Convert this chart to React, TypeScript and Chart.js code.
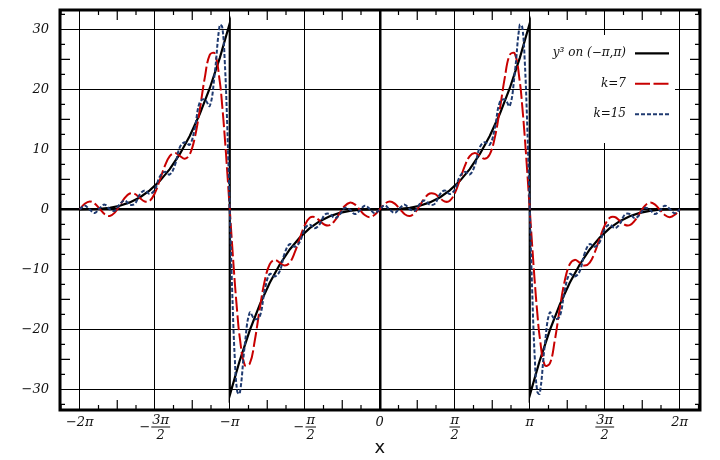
import React, { useEffect, useRef } from "react";
import { Chart, registerables } from "chart.js";

Chart.register(...registerables);

// x positions are in units of π/30 (so 30 = π, 60 = 2π)
const seriesX = [
  -60, -59, -58, -57, -56, -55, -54, -53, -52, -51, -50, -49, -48, -47, -46, -45, -44, -43, -42, -41,
  -40, -39, -38, -37, -36, -35, -34, -33, -32, -31.5, -31, -30.5, -30, -29.5, -29, -28.5,
  -28, -27, -26, -25, -24, -23, -22, -21, -20, -19, -18, -17, -16, -15, -14, -13, -12, -11, -10,
  -9, -8, -7, -6, -5, -4, -3, -2, -1, 0, 1, 2, 3, 4, 5, 6, 7, 8, 9, 10, 11, 12, 13, 14, 15, 16, 17,
  18, 19, 20, 21, 22, 23, 24, 25, 26, 27, 28, 28.5, 29, 29.5, 30, 30.5, 31, 31.5,
  32, 33, 34, 35, 36, 37, 38, 39, 40, 41, 42, 43, 44, 45, 46, 47, 48, 49, 50, 51, 52, 53, 54, 55,
  56, 57, 58, 59, 60,
];

// partial sum, k = 7
const seriesK7 = [
  0, 0.92, 1.31, 0.95, 0.06, -0.82, -1.11, -0.56, 0.63, 1.9, 2.64, 2.57, 1.91, 1.29, 1.42, 2.67, 4.84, 7.19, 8.87, 9.37,
  8.92, 8.43, 9.15, 11.91, 16.58, 21.9, 25.74, 25.97, 21.33, 17.19, 12.07, 6.22, 0, -6.22, -12.07, -17.19,
  -21.33, -25.97, -25.74, -21.9, -16.58, -11.91, -9.15, -8.43, -8.92, -9.37, -8.87, -7.19, -4.84, -2.67, -1.42, -1.29, -1.91, -2.57, -2.64,
  -1.9, -0.63, 0.56, 1.11, 0.82, -0.06, -0.95, -1.31, -0.92, 0, 0.92, 1.31, 0.95, 0.06, -0.82, -1.11, -0.56, 0.63, 1.9, 2.64, 2.57, 1.91, 1.29, 1.42, 2.67, 4.84, 7.19,
  8.87, 9.37, 8.92, 8.43, 9.15, 11.91, 16.58, 21.9, 25.74, 25.97, 21.33, 17.19, 12.07, 6.22, 0, -6.22, -12.07, -17.19,
  -21.33, -25.97, -25.74, -21.9, -16.58, -11.91, -9.15, -8.43, -8.92, -9.37, -8.87, -7.19, -4.84, -2.67, -1.42, -1.29, -1.91, -2.57, -2.64, -1.9, -0.63, 0.56, 1.11, 0.82,
  -0.06, -0.95, -1.31, -0.92, 0,
];

// partial sum, k = 15
const seriesK15 = [
  0, 0.64, -0.06, -0.6, 0.21, 0.78, 0.04, -0.24, 0.88, 1.47, 0.77, 0.9, 2.46, 3.14, 2.56, 3.26, 5.43, 6.24, 5.8, 7.29,
  10.31, 11.19, 10.77, 13.48, 17.85, 18.3, 17.22, 22.69, 30.73, 30.37, 24.72, 13.94, 0, -13.94, -24.72, -30.37,
  -30.73, -22.69, -17.22, -18.3, -17.85, -13.48, -10.77, -11.19, -10.31, -7.29, -5.8, -6.24, -5.43, -3.26, -2.56, -3.14, -2.46, -0.9, -0.77,
  -1.47, -0.88, 0.24, -0.04, -0.78, -0.21, 0.6, 0.06, -0.64, 0, 0.64, -0.06, -0.6, 0.21, 0.78, 0.04, -0.24, 0.88, 1.47, 0.77, 0.9, 2.46, 3.14, 2.56, 3.26, 5.43, 6.24,
  5.8, 7.29, 10.31, 11.19, 10.77, 13.48, 17.85, 18.3, 17.22, 22.69, 30.73, 30.37, 24.72, 13.94, 0, -13.94, -24.72, -30.37,
  -30.73, -22.69, -17.22, -18.3, -17.85, -13.48, -10.77, -11.19, -10.31, -7.29, -5.8, -6.24, -5.43, -3.26, -2.56, -3.14, -2.46, -0.9, -0.77, -1.47, -0.88, 0.24, -0.04, -0.78,
  -0.21, 0.6, 0.06, -0.64, 0,
];

// y^3 on (−π, π), repeated
const cubeX = [
  -60, -58, -56, -54, -52, -50, -48, -46, -44, -42, -40, -38, -36, -34, -32, -30,
  -30, -28, -26, -24, -22, -20, -18, -16, -14, -12, -10, -8, -6, -4, -2, 0,
  2, 4, 6, 8, 10, 12, 14, 16, 18, 20, 22, 24, 26, 28, 30,
  30, 32, 34, 36, 38, 40, 42, 44, 46, 48, 50, 52, 54, 56, 58, 60,
];
const cubeY = [
  0, 0.01, 0.07, 0.25, 0.59, 1.15, 1.98, 3.15, 4.7, 6.7, 9.19, 12.23, 15.88, 20.18, 25.21, 31.01,
  -31.01, -25.21, -20.18, -15.88, -12.23, -9.19, -6.7, -4.7, -3.15, -1.98, -1.15, -0.59, -0.25, -0.07, -0.01, 0,
  0.01, 0.07, 0.25, 0.59, 1.15, 1.98, 3.15, 4.7, 6.7, 9.19, 12.23, 15.88, 20.18, 25.21, 31.01,
  -31.01, -25.21, -20.18, -15.88, -12.23, -9.19, -6.7, -4.7, -3.15, -1.98, -1.15, -0.59, -0.25, -0.07, -0.01, 0,
];

const xTicks = [-60, -45, -30, -15, 0, 15, 30, 45, 60];
const xTickLabels = ["−2π", "−3π/2", "−π", "−π/2", "0", "π/2", "π", "3π/2", "2π"];
const yTicks = [-30, -20, -10, 0, 10, 20, 30];
const yTickLabels = ["−30", "−20", "−10", "0", "10", "20", "30"];
const legendLabels = ["y³ on (−π,π)", "k=7", "k=15"];

const SERIF = "'DejaVu Serif', 'Liberation Serif', serif";

const decorPlugin = {
  id: "decor",
  afterDatasetsDraw(chart: any) {
    const { ctx, chartArea: a } = chart;
    ctx.save();
    // legend box
    ctx.fillStyle = "#ffffff";
    ctx.fillRect(a.right - 160, a.top + 25, 135, 108);
    chart.data.datasets.forEach((ds: any, i: number) => {
      const rowY = a.top + 43.3 + 30.5 * i;
      ctx.font = `italic 12px ${SERIF}`;
      ctx.fillStyle = "#111";
      ctx.textAlign = "right";
      ctx.textBaseline = "middle";
      ctx.fillText(ds.label, a.right - 74, rowY);
      ctx.beginPath();
      ctx.setLineDash(ds.borderDash || []);
      ctx.lineWidth = ds.borderWidth;
      ctx.strokeStyle = ds.borderColor;
      ctx.moveTo(a.right - 65, rowY);
      ctx.lineTo(a.right - 31, rowY);
      ctx.stroke();
    });
    ctx.setLineDash([]);
    ctx.restore();
  },
  afterDraw(chart: any) {
    const { ctx, chartArea: a } = chart;
    const xs = chart.scales.x;
    const ys = chart.scales.y;
    ctx.save();
    // frame
    ctx.strokeStyle = "#000";
    ctx.lineWidth = 3;
    ctx.strokeRect(a.left, a.top, a.right - a.left, a.bottom - a.top);
    // minor ticks
    ctx.lineWidth = 1.2;
    ctx.beginPath();
    for (let k = -17; k <= 17; k++) {
      if (k % 4 === 0) continue;
      const v = k * 3.75;
      if (v <= xs.min || v >= xs.max) continue;
      const len = k % 2 === 0 ? 10 : 5;
      const px = xs.getPixelForValue(v);
      ctx.moveTo(px, a.bottom);
      ctx.lineTo(px, a.bottom - len);
      ctx.moveTo(px, a.top);
      ctx.lineTo(px, a.top + len);
    }
    for (let k = -13; k <= 13; k++) {
      if (k % 4 === 0) continue;
      const v = k * 2.5;
      if (v <= ys.min || v >= ys.max) continue;
      const len = k % 2 === 0 ? 10 : 5;
      const py = ys.getPixelForValue(v);
      ctx.moveTo(a.left, py);
      ctx.lineTo(a.left + len, py);
      ctx.moveTo(a.right, py);
      ctx.lineTo(a.right - len, py);
    }
    ctx.stroke();
    // x tick labels (with stacked fractions)
    ctx.font = `italic 13px ${SERIF}`;
    ctx.fillStyle = "#111";
    xTicks.forEach((v, i) => {
      const px = xs.getPixelForValue(v);
      const lab = xTickLabels[i];
      if (lab.indexOf("/") >= 0) {
        let sign = "";
        let body = lab;
        if (body.charAt(0) === "−") {
          sign = "−";
          body = body.slice(1);
        }
        const parts = body.split("/");
        const num = parts[0];
        const den = parts[1];
        const fw = Math.max(ctx.measureText(num).width, ctx.measureText(den).width) + 2;
        const sw = sign ? ctx.measureText(sign).width + 1 : 0;
        const left = px - (sw + fw) / 2;
        const fx = left + sw + fw / 2;
        ctx.textBaseline = "alphabetic";
        if (sign) {
          ctx.textAlign = "left";
          ctx.fillText(sign, left, a.bottom + 21);
        }
        ctx.textAlign = "center";
        ctx.fillText(num, fx, a.bottom + 14);
        ctx.fillText(den, fx, a.bottom + 29);
        ctx.fillRect(fx - fw / 2, a.bottom + 16.5, fw, 1);
      } else {
        ctx.textAlign = "center";
        ctx.textBaseline = "alphabetic";
        ctx.fillText(lab, px, a.bottom + 16);
      }
    });
    // axis title
    ctx.font = "18px 'DejaVu Sans', sans-serif";
    ctx.fillStyle = "#111";
    ctx.textAlign = "center";
    ctx.textBaseline = "alphabetic";
    ctx.fillText("x", xs.getPixelForValue(0), a.bottom + 43);
    ctx.restore();
  },
};

export default function App() {
  const ref = useRef<HTMLCanvasElement>(null);
  useEffect(() => {
    const toPts = (xsArr: number[], ysArr: number[]) => xsArr.map((x, i) => ({ x, y: ysArr[i] }));
    const chart = new Chart(ref.current as HTMLCanvasElement, {
      type: "line",
      data: {
        datasets: [
          {
            label: legendLabels[0],
            data: toPts(cubeX, cubeY),
            borderColor: "#000000",
            borderWidth: 2.2,
            pointRadius: 0,
            tension: 0,
            order: 2,
          },
          {
            label: legendLabels[1],
            data: toPts(seriesX, seriesK7),
            borderColor: "#c80000",
            borderWidth: 2,
            borderDash: [15, 3.5],
            pointRadius: 0,
            tension: 0.4,
            order: 1,
          },
          {
            label: legendLabels[2],
            data: toPts(seriesX, seriesK15),
            borderColor: "#1f3a70",
            borderWidth: 2,
            borderDash: [4, 2],
            pointRadius: 0,
            tension: 0.4,
            order: 0,
          },
        ],
      } as any,
      options: {
        animation: false,
        responsive: true,
        maintainAspectRatio: false,
        layout: { padding: { top: 10, right: 20, left: 0, bottom: 0 }, autoPadding: false } as any,
        plugins: {
          legend: { display: false },
          tooltip: { enabled: false },
        },
        scales: {
          x: {
            type: "linear",
            min: -63.95,
            max: 64.05,
            afterBuildTicks: (scale: any) => {
              scale.ticks = xTicks.map((v) => ({ value: v }));
            },
            afterFit: (scale: any) => {
              scale.height = 50;
              scale.paddingLeft = 0;
              scale.paddingRight = 0;
            },
            ticks: { display: false },
            grid: {
              color: "#000",
              lineWidth: (c: any) => (c.tick && c.tick.value === 0 ? 2.5 : 1),
              drawTicks: false,
            },
            border: { display: false },
          },
          y: {
            type: "linear",
            min: -33.45,
            max: 33.22,
            afterBuildTicks: (scale: any) => {
              scale.ticks = yTicks.map((v) => ({ value: v }));
            },
            afterFit: (scale: any) => {
              scale.width = 60;
              scale.paddingTop = 0;
              scale.paddingBottom = 0;
            },
            ticks: {
              padding: 11,
              color: "#111",
              font: { family: SERIF, style: "italic", size: 13 },
              callback: (value: any) => {
                const idx = yTicks.indexOf(Number(value));
                return idx >= 0 ? yTickLabels[idx] : "";
              },
            },
            grid: {
              color: "#000",
              lineWidth: (c: any) => (c.tick && c.tick.value === 0 ? 2.5 : 1),
              drawTicks: false,
            },
            border: { display: false },
          },
        },
      } as any,
      plugins: [decorPlugin],
    });
    return () => chart.destroy();
  }, []);
  return (
    <div style={{ position: "fixed", left: 0, top: 0, width: 720, height: 460, background: "#fff" }}>
      <canvas ref={ref} />
    </div>
  );
}
